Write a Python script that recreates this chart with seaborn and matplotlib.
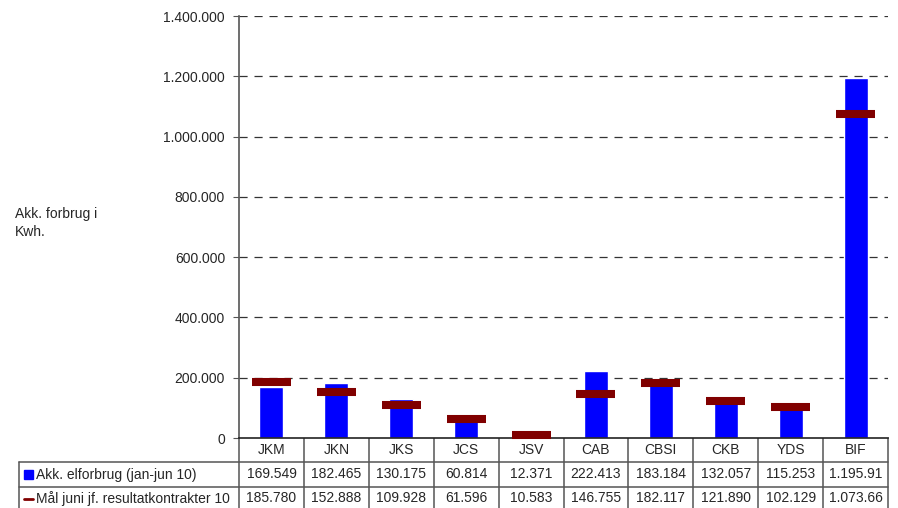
import matplotlib
matplotlib.use("Agg")
import matplotlib.pyplot as plt
from matplotlib.transforms import blended_transform_factory
from matplotlib.patches import Rectangle
import seaborn as sns
import pandas as pd

# Data
categories = ["JKM", "JKN", "JKS", "JCS", "JSV", "CAB", "CBSI", "CKB", "YDS", "BIF"]
consumption = [169549, 182465, 130175, 60814, 12371, 222413, 183184, 132057, 115253, 1195910]
targets = [185780, 152888, 109928, 61596, 10583, 146755, 182117, 121890, 102129, 1073660]
series_names = ["Akk. elforbrug (jan-jun 10)", "Mål juni jf. resultatkontrakter 10"]
y_label = "Akk. forbrug i\nKwh."
y_ticks = [0, 200000, 400000, 600000, 800000, 1000000, 1200000, 1400000]

BAR_BLUE = "#0000FF"
TARGET_RED = "#800000"
LINE_GREY = "#555555"

sns.set_style("white")
plt.rcParams["font.family"] = ["Liberation Sans", "DejaVu Sans"]
plt.rcParams["font.size"] = 10

W, H = 898, 508
fig = plt.figure(figsize=(W / 100, H / 100), dpi=100)


def fmt(v):
    return f"{v:,.0f}".replace(",", ".")


# Plot area in pixel geometry
left_px, right_px, top_px, base_px = 239, 888, 16, 438
ax = fig.add_axes([left_px / W, (H - base_px) / H, (right_px - left_px) / W, (base_px - top_px) / H])

df = pd.DataFrame({"cat": categories, "value": consumption, "target": targets})
sns.barplot(data=df, x="cat", y="value", color=BAR_BLUE, saturation=1, width=0.37, ax=ax)

xs = range(len(categories))
ax.hlines(df["target"], [x - 0.3 for x in xs], [x + 0.3 for x in xs],
          color=TARGET_RED, lw=5.8, zorder=4, clip_on=False)

ax.set_xlim(-0.5, len(categories) - 0.5)
ax.set_ylim(0, 1400000)
ax.set_yticks(y_ticks)
ax.set_yticklabels([fmt(t) for t in y_ticks])
ax.set_xticks([])
ax.set_xlabel("")
ax.set_ylabel("")
ax.tick_params(axis="y", direction="out", length=4, width=0.8, color=LINE_GREY, pad=6, labelsize=10)
ax.yaxis.set_ticks_position("left")

for t in y_ticks[1:]:
    ax.axhline(t, color="#333333", lw=0.9, dashes=(6.5, 5.5), zorder=0)

for s in ["top", "right"]:
    ax.spines[s].set_visible(False)
ax.spines["left"].set_color(LINE_GREY)
ax.spines["left"].set_linewidth(1.2)
ax.spines["bottom"].set_color("#222222")
ax.spines["bottom"].set_linewidth(1.2)

fig.text(15 / W, 1 - 223 / H, y_label, ha="left", va="center", fontsize=10, linespacing=1.45)

# Data table under the plot (runs past the lower edge of the figure)
tab = fig.add_axes([0, 0, 1, 1], zorder=-1)
tab.set_xlim(0, W)
tab.set_ylim(H, 0)
tab.axis("off")
tr = blended_transform_factory(ax.transData, tab.transData)

header_y, row1_y, row2_y = 450, 474.5, 498.5
row1_top, row2_top, table_bottom = 462, 487, 512
table_left = 19

# Column separators
for b in range(len(categories) + 1):
    tab.plot([b - 0.5, b - 0.5], [base_px, table_bottom], transform=tr, color=LINE_GREY, lw=1.1, clip_on=False)
tab.plot([table_left, table_left], [row1_top, table_bottom], color=LINE_GREY, lw=1.1, clip_on=False)
for y in (row1_top, row2_top):
    tab.plot([table_left, right_px], [y, y], color=LINE_GREY, lw=1.1)

for i, c in enumerate(categories):
    tab.text(i, header_y, c, transform=tr, ha="center", va="center", fontsize=10)
    # column is too narrow for more than eight characters
    tab.text(i, row1_y, fmt(consumption[i])[:8], transform=tr, ha="center", va="center", fontsize=10)
    tab.text(i, row2_y, fmt(targets[i])[:8], transform=tr, ha="center", va="center", fontsize=10)

# Legend keys
tab.add_patch(Rectangle((24, 470), 9, 9, color=BAR_BLUE))
tab.plot([24, 33], [499, 499], color=TARGET_RED, lw=2)
tab.text(36, row1_y, series_names[0], ha="left", va="center", fontsize=10)
tab.text(36, row2_y, series_names[1], ha="left", va="center", fontsize=10)

fig.savefig("out.png", dpi=100)
